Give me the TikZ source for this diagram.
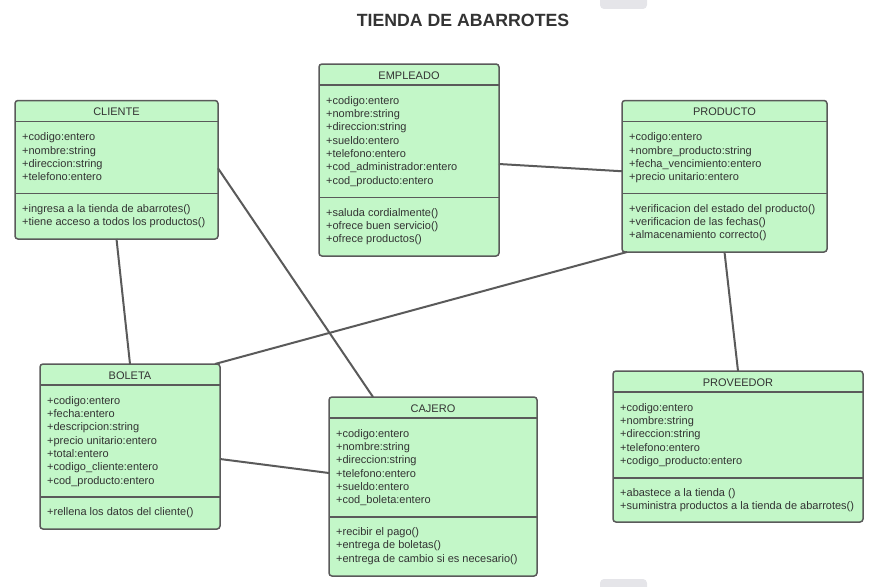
\documentclass[tikz,border=0pt]{standalone}
\usepackage{fontspec}
\setmainfont{Liberation Sans}

\definecolor{verde}{RGB}{195,247,200}
\definecolor{borde}{RGB}{90,90,90}
\definecolor{letra}{RGB}{51,51,51}
\definecolor{pestana}{RGB}{229,229,233}

% caja de clase: nombre, x, y, ancho, alto, divisor, titulo, atributos, metodos
\newcommand{\clase}[9]{%
  \node[clase, minimum width=#4pt, minimum height=#5pt] (#1) at (#2,#3) {};
  \draw[linea] ([yshift=-21pt]#1.north west) -- ([yshift=-21pt]#1.north east);
  \draw[linea] ([yshift=-#6pt]#1.north west) -- ([yshift=-#6pt]#1.north east);
  \node[texto, anchor=base] (#1-t) at ([yshift=-15pt]#1.north) {#7};
  \foreach \t [count=\i, evaluate=\i as \dy using 40.2+(\i-1)*13.3] in {#8}
    \node[texto, anchor=base west] (#1-a\i) at ([xshift=7pt, yshift=-\dy pt]#1.north west) {\t};
  \foreach \t [count=\i, evaluate=\i as \dy using #6+18.6+(\i-1)*13.3] in {#9}
    \node[texto, anchor=base west] (#1-m\i) at ([xshift=7pt, yshift=-\dy pt]#1.north west) {\t};
}

\begin{document}
\begin{tikzpicture}
	[x=1pt, y=-1pt,
	clase/.style={draw=borde, line width=1.5pt, fill=verde, rounded corners=3pt, anchor=north west, inner sep=0pt, outer sep=0pt},
	linea/.style={draw=borde, line width=1.5pt},
	texto/.style={text=letra, font=\fontsize{11}{13}\selectfont, inner sep=0pt},
	titulo/.style={text=letra, font=\fontsize{17.7}{20}\selectfont\bfseries, anchor=base, inner sep=0pt},
	enlace/.style={draw=borde, line width=2pt}]
	\useasboundingbox (0,0) rectangle (893,586);
	\fill[pestana, rounded corners=4pt] (600,-6) rectangle (647,9);
	\fill[pestana, rounded corners=4pt] (600,579) rectangle (647,592);

	\node[titulo] (titulo) at (463,26.5) {TIENDA DE ABARROTES};

	\clase{cliente}{15}{100.5}{203}{138.5}{93}{CLIENTE}
		{+codigo:entero, +nombre:string, +direccion:string, +telefono:entero}
		{+ingresa a la tienda de abarrotes(), +tiene acceso a todos los productos()}
	\clase{empleado}{319}{64}{180}{192}{133.5}{EMPLEADO}
		{+codigo:entero, +nombre:string, +direccion:string, +sueldo:entero, +telefono:entero,
		 +cod\_administrador:entero, +cod\_producto:entero}
		{+saluda cordialmente(), +ofrece buen servicio(), +ofrece productos()}
	\clase{producto}{622}{100.5}{205}{151.5}{93}{PRODUCTO}
		{+codigo:entero, +nombre\_producto:string, +fecha\_vencimiento:entero, +precio unitario:entero}
		{+verificacion del estado del producto(), +verificacion de las fechas(), +almacenamiento correcto()}
	\clase{boleta}{40}{364}{180}{165}{133}{BOLETA}
		{+codigo:entero, +fecha:entero, +descripcion:string, +precio unitario:entero, +total:entero,
		 +codigo\_cliente:entero, +cod\_producto:entero}
		{+rellena los datos del cliente()}
	\clase{cajero}{329}{397}{208}{179}{120}{CAJERO}
		{+codigo:entero, +nombre:string, +direccion:string, +telefono:entero, +sueldo:entero,
		 +cod\_boleta:entero}
		{+recibir el pago(), +entrega de boletas(), +entrega de cambio si es necesario()}
	\clase{proveedor}{613}{371}{250}{151}{107}{PROVEEDOR}
		{+codigo:entero, +nombre:string, +direccion:string, +telefono:entero, +codigo\_producto:entero}
		{+abastece a la tienda (), +suministra productos a la tienda de abarrotes()}

	\draw[enlace] (cliente.south) -- (boleta.north);
	\draw[enlace] ([yshift=1.5pt]cliente.east) -- ([xshift=-60pt]cajero.north);
	\draw[enlace] ([yshift=-4pt]empleado.east) -- ([yshift=5pt]producto.west);
	\draw[enlace] ([xshift=5pt]producto.south west) -- ([xshift=-5pt]boleta.north east);
	\draw[enlace] (producto.south) -- (proveedor.north);
	\draw[enlace] ([yshift=-12.5pt]boleta.east) -- ([yshift=13.5pt]cajero.west);
\end{tikzpicture}
\end{document}
